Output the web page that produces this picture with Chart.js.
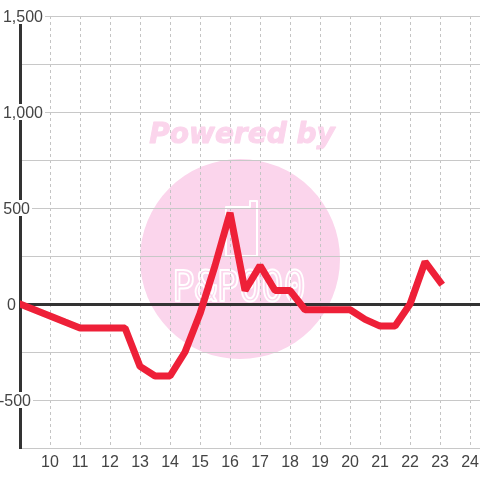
<!DOCTYPE html>
<html>
<head>
<meta charset="utf-8">
<style>
html, body { margin: 0; padding: 0; background: #fff; }
#wrap { width: 480px; height: 480px; }
</style>
<script src="https://cdn.jsdelivr.net/npm/chart.js@4/dist/chart.umd.js"></script>
</head>
<body>
<div id="wrap"><canvas id="chart" width="480" height="480"></canvas></div>
<script>
var hours = [9, 9.5, 10, 10.5, 11, 11.5, 12, 12.5, 13, 13.5, 14, 14.5, 15, 15.5, 16, 16.5,
    17, 17.5, 18, 18.5, 19, 19.5, 20, 20.5, 21, 21.5, 22, 22.5, 23];
var values = [0, -31, -62, -94, -125, -125, -125, -125, -325, -375, -375, -250, -50, 200, 475, 70,
    200, 70, 70, -30, -30, -30, -30, -80, -115, -115, 0, 220, 115];
var xTicks = [10, 11, 12, 13, 14, 15, 16, 17, 18, 19, 20, 21, 22, 23, 24];
var yTickLabels = {'1500': '1,500', '1000': '1,000', '500': '500', '0': '0', '-500': '-500'};
// right edge of each y label, they do not line up in the reference
var yLabelRight = {'1500': 43, '1000': 43, '500': 30, '0': 16, '-500': 31};

var FONT = '16px "Liberation Sans", Arial, sans-serif';
var INK = '#333333';
var TEXT = '#444444';

// pink badge behind the plot
var watermark = {
    id: 'watermark',
    beforeDraw: function (chart) {
        var ctx = chart.ctx;
        ctx.save();
        ctx.fillStyle = '#fbd5ec';
        ctx.beginPath();
        ctx.arc(240, 259, 100, 0, Math.PI * 2);
        ctx.fill();
        ctx.font = 'italic bold 28px "DejaVu Sans"';
        ctx.textAlign = 'center';
        ctx.textBaseline = 'middle';
        ctx.strokeStyle = '#fbd5ec';
        ctx.lineWidth = 1;
        ctx.lineJoin = 'round';
        ctx.fillText('Powered by', 242, 136);
        ctx.strokeText('Powered by', 242, 136);

        ctx.strokeStyle = '#ffffff';
        ctx.lineWidth = 2;
        ctx.beginPath();
        ctx.moveTo(226, 207);
        ctx.lineTo(250, 207);
        ctx.lineTo(250, 201);
        ctx.lineTo(257, 201);
        ctx.lineTo(257, 256);
        ctx.lineTo(226, 256);
        ctx.closePath();
        ctx.stroke();

        ctx.translate(239, 290);
        ctx.scale(0.88, 1);
        ctx.font = '42px "DejaVu Sans Mono"';
        ctx.lineWidth = 2;
        ctx.strokeText('P&P000', 0, 0);
        ctx.restore();
    }
};

// y labels sit on top of the axis with a white box behind them
var yLabels = {
    id: 'yLabels',
    beforeDatasetsDraw: function (chart) {
        var ctx = chart.ctx;
        var scale = chart.scales.y;
        ctx.save();
        ctx.font = FONT;
        ctx.textBaseline = 'middle';
        ctx.textAlign = 'right';
        scale.ticks.forEach(function (tick) {
            var label = yTickLabels[tick.value];
            if (!label) {
                return;
            }
            var y = scale.getPixelForValue(tick.value);
            var right = yLabelRight[tick.value];
            var w = ctx.measureText(label).width;
            ctx.fillStyle = '#ffffff';
            ctx.fillRect(right - w - 1, y - 8, w + 3, 16);
            ctx.fillStyle = TEXT;
            ctx.fillText(label, right, y + 2);
        });
        ctx.restore();
    }
};

new Chart(document.getElementById('chart'), {
    type: 'line',
    data: {
        datasets: [{
            data: hours.map(function (h, i) { return {x: h, y: values[i]}; }),
            borderColor: '#ee2038',
            borderWidth: 7,
            pointRadius: 0,
            tension: 0,
            borderCapStyle: 'square',
            borderJoinStyle: 'bevel',
            clip: {left: 0, top: false, right: false, bottom: false}
        }]
    },
    options: {
        responsive: false,
        animation: false,
        layout: {padding: {top: 16}},
        plugins: {legend: {display: false}, tooltip: {enabled: false}},
        scales: {
            x: {
                type: 'linear',
                min: 9,
                max: 24.33,
                afterFit: function (scale) {
                    scale.height = 32;
                    scale.paddingLeft = 0;
                    scale.paddingRight = 0;
                },
                afterBuildTicks: function (scale) {
                    scale.ticks = xTicks.map(function (v) {
                        return {value: v};
                    });
                },
                border: {display: false, dash: [3, 3]},
                grid: {color: '#c4c4c4', lineWidth: 1, drawTicks: false},
                ticks: {
                    color: TEXT,
                    font: {family: '"Liberation Sans"', size: 16},
                    padding: 5,
                    maxRotation: 0,
                    autoSkip: false
                }
            },
            y: {
                min: -750,
                max: 1500,
                position: 'left',
                afterFit: function (scale) { scale.width = 20; },
                border: {display: true, color: INK, width: 3},
                grid: {
                    drawTicks: false,
                    color: function (c) { return c.tick.value === 0 ? INK : '#c8c8c8'; },
                    lineWidth: function (c) { return c.tick.value === 0 ? 3 : 1; }
                },
                ticks: {
                    stepSize: 250,
                    display: false
                }
            }
        }
    },
    plugins: [watermark, yLabels]
});
</script>
</body>
</html>
